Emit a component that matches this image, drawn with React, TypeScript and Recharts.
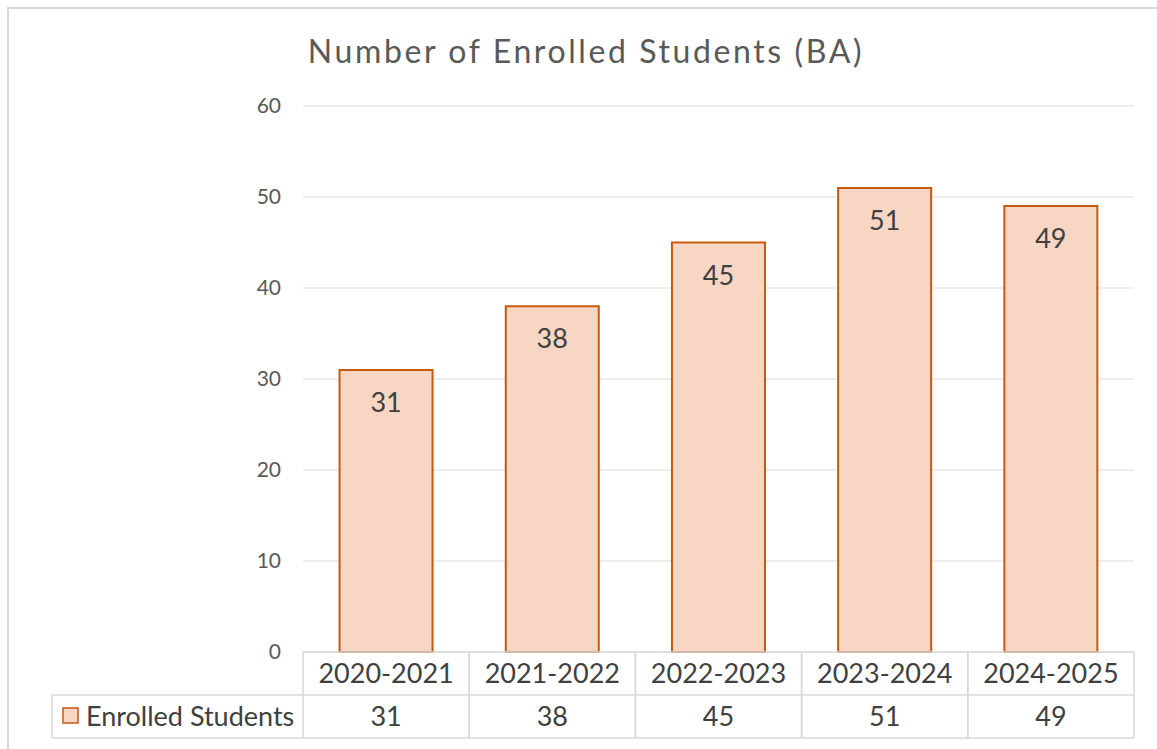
import React from 'react';
import { BarChart, Bar, XAxis, YAxis, CartesianGrid, LabelList } from 'recharts';

const years = ['2020-2021', '2021-2022', '2022-2023', '2023-2024', '2024-2025'];
const enrolled = [31, 38, 45, 51, 49];
const yTicks = [0, 10, 20, 30, 40, 50, 60];
const seriesName = 'Enrolled Students';

const data = years.map((year, i) => ({ year, enrolled: enrolled[i] }));

const W = 1157;
const H = 749;
const FONT = 'Lato, "Open Sans", sans-serif';
const BAR_FILL = '#F8D6C4';
const BAR_STROKE = '#C55A11';
const LINE = '#D9D9D9';
const MARGIN = { top: 106, right: 23, bottom: 11, left: 243 };
const Y_AXIS_W = 60;
const PLOT_W = W - MARGIN.left - MARGIN.right - Y_AXIS_W;
const CELL_W = PLOT_W / years.length;
const ROW_H = 43;
const TABLE_LEFT = 52;

// data table under the plot, drawn one column per category tick
function TableTick(props: any) {
  const { x, y, payload, index } = props;
  const left = x - CELL_W / 2;
  const right = x + CELL_W / 2;
  return (
    <g>
      <line x1={left} y1={y} x2={right} y2={y} stroke={LINE} strokeWidth={1.5} />
      <line x1={left} y1={y + ROW_H} x2={right} y2={y + ROW_H} stroke={LINE} strokeWidth={1.5} />
      <line x1={left} y1={y + ROW_H * 2} x2={right} y2={y + ROW_H * 2} stroke={LINE} strokeWidth={1.5} />
      <line x1={left} y1={y} x2={left} y2={y + ROW_H * 2} stroke={LINE} strokeWidth={1.5} />
      <line x1={right} y1={y} x2={right} y2={y + ROW_H * 2} stroke={LINE} strokeWidth={1.5} />
      <text x={x} y={y + 31} textAnchor="middle" fontSize={27} fill="#404040" fontFamily={FONT}>
        {payload.value}
      </text>
      <text x={x} y={y + ROW_H + 31} textAnchor="middle" fontSize={27} fill="#404040" fontFamily={FONT}>
        {enrolled[index]}
      </text>
      {index === 0 && (
        <g>
          <line x1={TABLE_LEFT} y1={y + ROW_H} x2={left} y2={y + ROW_H} stroke={LINE} strokeWidth={1.5} />
          <line x1={TABLE_LEFT} y1={y + ROW_H * 2} x2={left} y2={y + ROW_H * 2} stroke={LINE} strokeWidth={1.5} />
          <line x1={TABLE_LEFT} y1={y + ROW_H} x2={TABLE_LEFT} y2={y + ROW_H * 2} stroke={LINE} strokeWidth={1.5} />
          <rect x={63} y={y + ROW_H + 13} width={15} height={15} fill={BAR_FILL} stroke={BAR_STROKE} strokeWidth={1.5} />
          <text x={86} y={y + ROW_H + 31} fontSize={27} fill="#404040" fontFamily={FONT}>
            {seriesName}
          </text>
        </g>
      )}
    </g>
  );
}

function BarValue(props: any) {
  const { x, y, width, value } = props;
  return (
    <text x={x + width / 2} y={y + 42} textAnchor="middle" fontSize={27} fill="#404040" fontFamily={FONT}>
      {value}
    </text>
  );
}

export default function App() {
  return (
    <div style={{ position: 'absolute', left: 0, top: 0, width: W, height: H, background: '#fff', overflow: 'hidden' }}>
      <div
        style={{
          position: 'absolute',
          left: 7,
          top: 7,
          width: W,
          height: H,
          borderLeft: `2px solid ${LINE}`,
          borderTop: `2px solid ${LINE}`,
        }}
      />
      <div
        style={{
          position: 'absolute',
          left: 0,
          top: 31,
          width: 1172,
          textAlign: 'center',
          fontFamily: FONT,
          fontSize: 32,
          letterSpacing: 2.6,
          color: '#595959',
        }}
      >
        Number of Enrolled Students (BA)
      </div>
      <div style={{ position: 'absolute', left: 0, top: 0 }}>
        <BarChart width={W} height={H} data={data} margin={MARGIN} barCategoryGap="22%">
          <CartesianGrid horizontal vertical={false} stroke="#E8E8E8" strokeWidth={1.5} />
          <XAxis
            dataKey="year"
            height={86}
            axisLine={false}
            tickLine={false}
            tickSize={0}
            tickMargin={0}
            interval={0}
            tick={<TableTick />}
          />
          <YAxis
            width={Y_AXIS_W}
            domain={[0, 60]}
            ticks={yTicks}
            axisLine={false}
            tickLine={false}
            tickSize={0}
            tickMargin={22}
            tick={{ fontSize: 21, fill: '#595959', fontFamily: FONT }}
          />
          <Bar dataKey="enrolled" fill={BAR_FILL} stroke={BAR_STROKE} strokeWidth={2} isAnimationActive={false}>
            <LabelList dataKey="enrolled" content={<BarValue />} />
          </Bar>
        </BarChart>
      </div>
    </div>
  );
}
